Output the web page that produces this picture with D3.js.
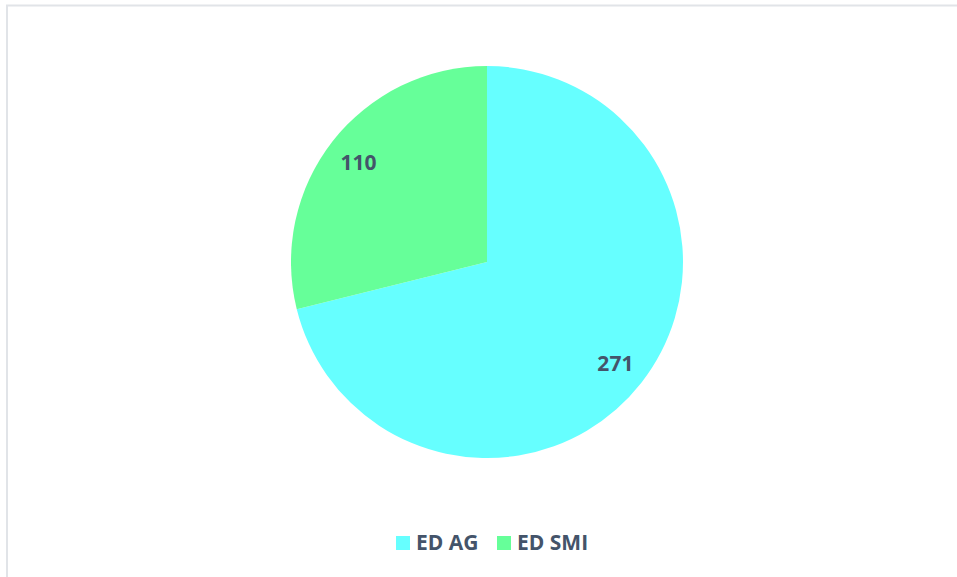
<!DOCTYPE html>
<html>
<head>
<meta charset="utf-8">
<script src="https://cdn.jsdelivr.net/npm/d3@7"></script>
<style>
  html, body { margin: 0; padding: 0; background: #fff; }
  svg { display: block; }
</style>
</head>
<body>
<svg id="chart" width="957" height="577"></svg>
<script>
const categories = ["ED AG", "ED SMI"];
const values = [271, 110];
const colors = ["#66FFFF", "#66FF99"];

const W = 957, H = 577;
const svg = d3.select("#chart");
const font = "'Segoe UI', 'Open Sans', 'Noto Sans', sans-serif";
const textColor = "#44546A";

// chart area border (extends beyond right/bottom of the view)
svg.append("rect")
  .attr("x", 7).attr("y", 5.5)
  .attr("width", W + 10).attr("height", H + 10)
  .attr("fill", "#fff")
  .attr("stroke", "#E1E4E8")
  .attr("stroke-width", 2);

const cx = 487, cy = 262, r = 196;
const g = svg.append("g").attr("transform", `translate(${cx},${cy})`);

const pie = d3.pie().sort(null).value(d => d)(values);
const arc = d3.arc().innerRadius(0).outerRadius(r);

g.selectAll("path.slice")
  .data(pie)
  .join("path")
  .attr("class", "slice")
  .attr("d", arc)
  .attr("fill", (d, i) => colors[i]);

g.selectAll("text.lbl")
  .data(pie)
  .join("text")
  .attr("class", "lbl")
  .attr("transform", d => {
    const a = (d.startAngle + d.endAngle) / 2;
    const rr = 163;
    return `translate(${rr * Math.sin(a)},${-rr * Math.cos(a) + 1})`;
  })
  .attr("text-anchor", "middle")
  .attr("dy", "0.35em")
  .attr("font-family", font)
  .attr("font-weight", "bold")
  .attr("font-size", 21)
  .attr("fill", textColor)
  .text(d => d.data);

// legend
const legend = svg.append("g").attr("transform", "translate(396,543)");
const itemX = [0, 101];
categories.forEach((c, i) => {
  const it = legend.append("g").attr("transform", `translate(${itemX[i]},0)`);
  it.append("rect").attr("x", 0).attr("y", -7).attr("width", 14).attr("height", 14).attr("fill", colors[i]);
  it.append("text")
    .attr("x", 20).attr("y", 0).attr("dy", "0.35em")
    .attr("font-family", font)
    .attr("font-weight", "bold")
    .attr("font-size", 21)
    .attr("fill", textColor)
    .text(c);
});
</script>
</body>
</html>
